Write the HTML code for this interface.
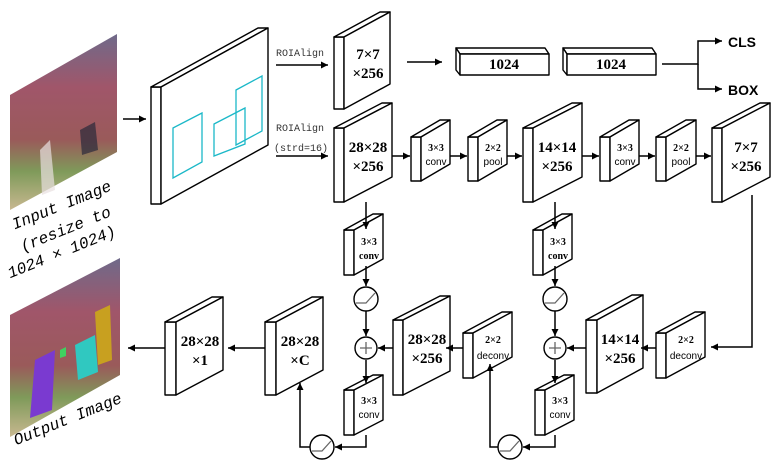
<!DOCTYPE html>
<html><head><meta charset="utf-8"><style>
html,body{margin:0;padding:0;background:#fff;}
body{position:relative;width:782px;height:468px;overflow:hidden;}
svg{display:block;position:absolute;left:0;top:0;}
.s{fill:#fff;stroke:#000;stroke-width:1.4;stroke-linejoin:round;}
.l{fill:none;stroke:#000;stroke-width:1.5;}
.c{fill:none;stroke:#1bb8c8;stroke-width:1.3;}
.b{font-family:"Liberation Serif",serif;font-weight:bold;font-size:15px;text-anchor:middle;}
.sm{font-family:"Liberation Serif",serif;font-weight:bold;font-size:10px;text-anchor:middle;}
.sm2{font-family:"Liberation Sans",sans-serif;font-size:10px;text-anchor:middle;}
.m{font-family:"Liberation Mono",monospace;font-size:10px;fill:#333;}
.cb{font-family:"Liberation Sans",sans-serif;font-weight:bold;font-size:14px;}
.rt{position:absolute;width:140px;text-align:center;font-family:"Liberation Mono",monospace;font-size:16px;font-style:italic;line-height:16px;transform:rotate(-22deg);transform-origin:50% 50%;white-space:nowrap;}
</style></head><body>
<svg width="782" height="468" viewBox="0 0 782 468" xmlns="http://www.w3.org/2000/svg">
<defs>
<marker id="a" viewBox="0 0 10 10" refX="10" refY="5" markerWidth="7" markerHeight="7" orient="auto-start-reverse" markerUnits="userSpaceOnUse"><path d="M0,0L10,5L0,10z" fill="#000"/></marker>
<linearGradient id="g1" x1="0" y1="0" x2="0" y2="1">
<stop offset="0" stop-color="#6f6a8a"/><stop offset="0.3" stop-color="#a0566a"/><stop offset="0.6" stop-color="#9a5a5a"/><stop offset="0.78" stop-color="#7f9a5a"/><stop offset="1" stop-color="#c8b890"/></linearGradient>
</defs>

<polygon points="10,95 117,34 117,152 10,210" fill="url(#g1)"/>
<polygon points="40,150 50,140 55,190 42,195" fill="#e8e0e0" opacity="0.7"/>
<polygon points="80,130 95,122 98,150 82,155" fill="#2a2a3a" opacity="0.7"/>
<polygon points="10,315 120,258 120,375 10,437" fill="url(#g1)"/>
<polygon points="35,360 55,350 52,410 30,418" fill="#7a3ad0"/>
<polygon points="75,345 95,335 98,372 78,380" fill="#30c8c0"/>
<polygon points="95,312 110,305 112,360 98,365" fill="#c8a020"/>
<polygon points="60,350 66,347 66,356 60,358" fill="#40d060"/>

<rect class="s" x="151" y="87" width="10" height="117"/>
<polygon class="s" points="151,87 161,87 268,28 258,28"/>
<polygon class="s" points="161,87 268,28 268,145 161,204"/>
<polygon class="c" points="173,128 202,113 202,162 173,178"/>
<polygon class="c" points="214,124 245,108 245,144 214,156"/>
<polygon class="c" points="236,90 262,76 262,131 236,145"/>

<g class="s">
<rect x="334" y="37" width="10" height="72"/><polygon points="334,37 344,37 390,12 380,12"/><polygon points="344,37 390,12 390,84 344,109"/>
<rect x="334" y="128" width="10" height="74"/><polygon points="334,128 344,128 392,103 382,103"/><polygon points="344,128 392,103 392,177 344,202"/>
<rect x="411" y="137" width="10" height="44"/><polygon points="411,137 421,137 450,120 440,120"/><polygon points="421,137 450,120 450,164 421,181"/>
<rect x="468" y="137" width="10" height="44"/><polygon points="468,137 478,137 507,120 497,120"/><polygon points="478,137 507,120 507,164 478,181"/>
<rect x="523" y="128" width="10" height="74"/><polygon points="523,128 533,128 582,103 572,103"/><polygon points="533,128 582,103 582,177 533,202"/>
<rect x="600" y="137" width="10" height="44"/><polygon points="600,137 610,137 639,120 629,120"/><polygon points="610,137 639,120 639,164 610,181"/>
<rect x="656" y="137" width="10" height="44"/><polygon points="656,137 666,137 696,120 686,120"/><polygon points="666,137 696,120 696,164 666,181"/>
<rect x="712" y="128" width="10" height="74"/><polygon points="712,128 722,128 770,103 760,103"/><polygon points="722,128 770,103 770,177 722,202"/>
<rect x="656" y="333" width="10" height="45"/><polygon points="656,333 666,333 705,312 695,312"/><polygon points="666,333 705,312 705,357 666,378"/>
<rect x="586" y="320" width="11" height="73"/><polygon points="586,320 597,320 643,295 632,295"/><polygon points="597,320 643,295 643,368 597,393"/>
<rect x="533" y="230" width="10" height="45"/><polygon points="533,230 543,230 572,214 562,214"/><polygon points="543,230 572,214 572,259 543,275"/>
<rect x="535" y="390" width="10" height="45"/><polygon points="535,390 545,390 574,375 564,375"/><polygon points="545,390 574,375 574,420 545,435"/>
<rect x="463" y="333" width="10" height="45"/><polygon points="463,333 473,333 512,312 502,312"/><polygon points="473,333 512,312 512,357 473,378"/>
<rect x="393" y="320" width="10" height="75"/><polygon points="393,320 403,320 450,296 440,296"/><polygon points="403,320 450,296 450,371 403,395"/>
<rect x="344" y="230" width="10" height="45"/><polygon points="344,230 354,230 383,214 373,214"/><polygon points="354,230 383,214 383,259 354,275"/>
<rect x="344" y="390" width="10" height="45"/><polygon points="344,390 354,390 383,375 373,375"/><polygon points="354,390 383,375 383,420 354,435"/>
<rect x="265" y="322" width="11" height="73"/><polygon points="265,322 276,322 323,297 312,297"/><polygon points="276,322 323,297 323,370 276,395"/>
<rect x="165" y="322" width="11" height="73"/><polygon points="165,322 176,322 223,297 212,297"/><polygon points="176,322 223,297 223,370 176,395"/>
<polygon points="456,48 545,48 549,54 460,54"/><polygon points="456,48 460,54 460,75 456,70"/><rect x="460" y="54" width="89" height="21"/>
<polygon points="563,48 652,48 656,54 567,54"/><polygon points="563,48 567,54 567,75 563,70"/><rect x="567" y="54" width="89" height="21"/>
</g>

<g class="s">
<circle cx="366" cy="299" r="12"/><circle cx="366" cy="348" r="11"/><circle cx="322" cy="447" r="12"/>
<circle cx="555" cy="299" r="12"/><circle cx="555" cy="348" r="11"/><circle cx="510" cy="447" r="12"/>
</g>
<g fill="none" stroke="#666" stroke-width="1.3">
<path d="M356,303H366L375,293"/><path d="M545,303H555L564,293"/><path d="M312,451H322L331,441"/><path d="M500,451H510L519,441"/>
<path d="M360,348H372M366,342V354"/><path d="M549,348H561M555,342V354"/>
</g>

<g class="l" marker-end="url(#a)">
<path d="M123,119H146"/>
<path d="M276,65H328"/>
<path d="M276,156H328"/>
<path d="M407,62H442"/>
<path d="M662,64H698V41H722"/>
<path d="M698,64V89H722"/>
<path d="M392,156H410"/>
<path d="M450,156H467"/>
<path d="M507,156H522"/>
<path d="M582,156H599"/>
<path d="M639,156H655"/>
<path d="M696,156H711"/>
<path d="M752,195V347H711"/>
<path d="M656,348H641"/>
<path d="M586,348H567"/>
<path d="M555,202V229"/>
<path d="M555,266V286"/>
<path d="M555,311V336"/>
<path d="M555,360V383"/>
<path d="M555,435V447H523"/>
<path d="M498,447H490V364"/>
<path d="M463,348H446"/>
<path d="M393,348H378"/>
<path d="M366,202V229"/>
<path d="M366,266V286"/>
<path d="M366,311V336"/>
<path d="M366,360V383"/>
<path d="M366,435V447H335"/>
<path d="M310,447H300V383"/>
<path d="M265,348H228"/>
<path d="M165,348H128"/>
</g>

<text class="m" x="276" y="56">ROIAlign</text>
<text class="m" x="276" y="131">ROIAlign</text>
<text class="m" x="274" y="151">(strd=16)</text>
<text class="cb" x="728" y="47">CLS</text>
<text class="cb" x="728" y="95">BOX</text>
<g class="b">
<text x="368" y="59">7×7</text><text x="368" y="78">×256</text>
<text x="368" y="152">28×28</text><text x="368" y="171">×256</text>
<text x="504" y="69">1024</text><text x="611" y="69">1024</text>
<text x="557" y="152">14×14</text><text x="557" y="171">×256</text>
<text x="746" y="152">7×7</text><text x="746" y="171">×256</text>
<text x="620" y="344">14×14</text><text x="620" y="363">×256</text>
<text x="427" y="344">28×28</text><text x="427" y="363">×256</text>
<text x="300" y="346">28×28</text><text x="300" y="365">×C</text>
<text x="200" y="346">28×28</text><text x="200" y="365">×1</text>
</g>
<g class="sm">
<text x="436" y="151">3×3</text><text x="493" y="151">2×2</text>
<text x="625" y="151">3×3</text><text x="681" y="151">2×2</text>
<text x="369" y="245">3×3</text><text x="369" y="259">conv</text>
<text x="558" y="245">3×3</text><text x="558" y="259">conv</text>
<text x="369" y="404">3×3</text><text x="560" y="404">3×3</text>
<text x="686" y="343">2×2</text><text x="493" y="343">2×2</text>
</g>
<g class="sm2">
<text x="436" y="165">conv</text><text x="493" y="165">pool</text>
<text x="625" y="165">conv</text><text x="681" y="165">pool</text>
<text x="369" y="418">conv</text><text x="560" y="418">conv</text>
<text x="686" y="359">deconv</text><text x="493" y="359">deconv</text>
</g>
</svg>
<div class="rt" style="left:-8px;top:198px;">Input Image</div>
<div class="rt" style="left:-4px;top:222px;">(resize to</div>
<div class="rt" style="left:-8px;top:245px;">1024 × 1024)</div>
<div class="rt" style="left:-2px;top:412px;">Output Image</div>
</body></html>
